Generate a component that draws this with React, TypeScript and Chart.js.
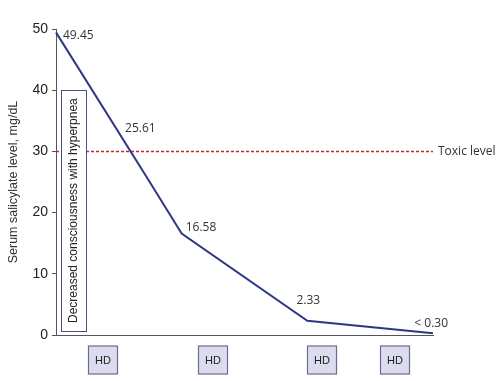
import React, { useEffect, useRef } from "react";
import { Chart, registerables } from "chart.js";

Chart.register(...registerables);

// ---- data ----
const hours = [0, 8, 11, 22, 33];
const salicylate = [49.45, 25.61, 16.58, 2.33, 0.3];
const pointLabels = ["49.45", "25.61", "16.58", "2.33", "< 0.30"];
const hdSessionHours = [4.1, 13.7, 23.3, 29.7];
const hdLabel = "HD";
const toxicLevel = 30;
const toxicLabel = "Toxic level";
const symptomText = "Decreased consciousness with hyperpnea";
const symptomHours = [0.45, 2.63];
const symptomLevels = [0.65, 40];
const yTitle = "Serum salicylate level, mg/dL";
const yMin = 0;
const yMax = 50;
const yStep = 10;
const xMax = 33;

// ---- styles ----
const labelOffsets: [number, number, CanvasTextAlign][] = [
  [7, 3, "left"],
  [-7, -50, "center"],
  [4, -6, "left"],
  [1, -20, "center"],
  [15, -10, "right"],
];
const LINE_COLOR = "#2e3784";
const AXIS_COLOR = "#555555";
const TEXT_COLOR = "#333333";
const TOXIC_COLOR = "#cc2233";

const overlayPlugin = {
  id: "overlay",
  beforeDatasetsDraw(chart: any) {
    const { ctx, scales } = chart;
    const x = scales.x;
    const y = scales.y;
    ctx.save();
    // toxic line
    const ty = y.getPixelForValue(toxicLevel);
    ctx.strokeStyle = TOXIC_COLOR;
    ctx.lineWidth = 1.5;
    ctx.setLineDash([3, 2]);
    ctx.beginPath();
    ctx.moveTo(x.getPixelForValue(0), ty);
    ctx.lineTo(x.getPixelForValue(xMax), ty);
    ctx.stroke();
    ctx.setLineDash([]);
    ctx.fillStyle = TEXT_COLOR;
    ctx.font = '12px "Open Sans"';
    ctx.textAlign = "left";
    ctx.textBaseline = "middle";
    ctx.fillText(toxicLabel, x.getPixelForValue(xMax) + 5, ty);

    // symptom box
    const bx0 = x.getPixelForValue(symptomHours[0]);
    const bx1 = x.getPixelForValue(symptomHours[1]);
    const by0 = y.getPixelForValue(symptomLevels[1]);
    const by1 = y.getPixelForValue(symptomLevels[0]);
    ctx.fillStyle = "#ffffff";
    ctx.fillRect(bx0, by0, bx1 - bx0, by1 - by0);
    ctx.strokeStyle = "#4a4f86";
    ctx.lineWidth = 1;
    ctx.strokeRect(Math.round(bx0) + 0.5, Math.round(by0) + 0.5, Math.round(bx1 - bx0), Math.round(by1 - by0));
    ctx.translate((bx0 + bx1) / 2, (by0 + by1) / 2);
    ctx.rotate(-Math.PI / 2);
    ctx.fillStyle = "#222222";
    ctx.font = '12px "Liberation Sans", Arial, sans-serif';
    ctx.textAlign = "center";
    ctx.textBaseline = "middle";
    ctx.fillText(symptomText, 0, 0);
    ctx.restore();
  },
  afterDatasetsDraw(chart: any) {
    const { ctx, scales } = chart;
    const x = scales.x;
    const y = scales.y;
    ctx.save();
    // point labels
    ctx.fillStyle = TEXT_COLOR;
    ctx.font = '12px "Open Sans"';
    ctx.textBaseline = "middle";
    salicylate.forEach((v, i) => {
      const px = x.getPixelForValue(hours[i]);
      const py = y.getPixelForValue(v);
      const [dx, dy, align] = labelOffsets[i];
      ctx.textAlign = align;
      ctx.fillText(pointLabels[i], px + dx, py + dy);
    });
    // HD boxes
    const base = y.getPixelForValue(yMin);
    hdSessionHours.forEach((h) => {
      const cx = Math.round(x.getPixelForValue(h));
      const w = 29;
      const hgt = 28;
      const left = cx - w / 2;
      const top = base + 11;
      ctx.fillStyle = "#dcdcf0";
      ctx.fillRect(left, top, w, hgt);
      ctx.strokeStyle = "#6a6c8c";
      ctx.lineWidth = 1.2;
      ctx.strokeRect(left, top, w, hgt);
      ctx.fillStyle = "#222222";
      ctx.font = '11px "Liberation Sans", Arial, sans-serif';
      ctx.textAlign = "center";
      ctx.textBaseline = "middle";
      ctx.fillText(hdLabel, cx, top + hgt / 2 + 1);
    });
    ctx.restore();
  },
};

export default function App() {
  const ref = useRef<HTMLCanvasElement | null>(null);
  useEffect(() => {
    if (!ref.current) return;
    const chart = new Chart(ref.current, {
      type: "line",
      data: {
        datasets: [
          {
            data: hours.map((h, i) => ({ x: h, y: salicylate[i] })),
            borderColor: LINE_COLOR,
            borderWidth: 2,
            pointRadius: 0,
            fill: false,
            tension: 0,
            clip: false as any,
          },
        ],
      },
      options: {
        animation: false,
        responsive: false,
        layout: { padding: { left: 0, top: 29, right: 69, bottom: 0 } },
        plugins: { legend: { display: false }, tooltip: { enabled: false } },
        scales: {
          x: {
            type: "linear",
            min: 0,
            max: xMax,
            ticks: { display: false },
            grid: { display: false, drawTicks: false },
            border: { display: true, color: AXIS_COLOR, width: 1 },
            afterFit: (s: any) => {
              s.height = 46;
            },
          },
          y: {
            min: yMin,
            max: yMax,
            ticks: {
              stepSize: yStep,
              color: "#222",
              padding: 4,
              font: { size: 14, family: '"Liberation Sans", Arial, sans-serif' },
            },
            grid: { display: true, drawOnChartArea: false, drawTicks: true, tickLength: 4, color: AXIS_COLOR },
            border: { display: true, color: AXIS_COLOR, width: 1 },
            title: {
              display: true,
              text: yTitle,
              color: TEXT_COLOR,
              padding: { top: 6, bottom: 0 },
              font: { size: 12.5, family: '"Liberation Sans", Arial, sans-serif' },
            },
            afterFit: (s: any) => {
              s.width = 56;
            },
          },
        },
      },
      plugins: [overlayPlugin],
    });
    return () => chart.destroy();
  }, []);
  return (
    <div style={{ position: "fixed", left: 0, top: 0, width: 502, height: 381, background: "#fff" }}>
      <canvas ref={ref} width={502} height={381} style={{ display: "block" }} />
    </div>
  );
}
